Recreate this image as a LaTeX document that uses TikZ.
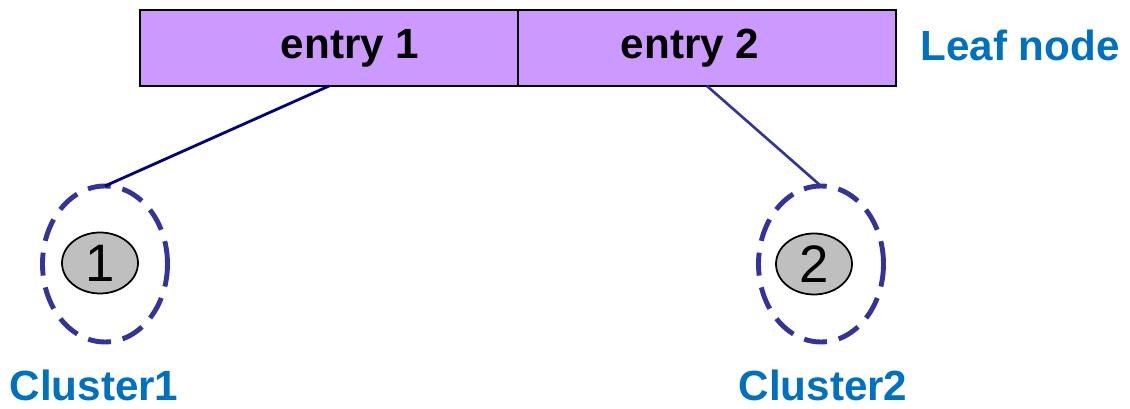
\documentclass[tikz,border=0pt]{standalone}
\usepackage{fontspec}
\setmainfont{Liberation Sans}
\usepackage{tikz}
\usetikzlibrary{shapes.geometric}
\definecolor{leafpurple}{HTML}{CC99FF}
\definecolor{clusterblue}{HTML}{333399}
\definecolor{linknavy}{HTML}{000080}
\definecolor{labelblue}{HTML}{0070C0}

\begin{document}
\begin{tikzpicture}[
  cell/.style={draw=black, line width=1.6pt, fill=leafpurple, minimum width=7.56cm, minimum height=1.52cm, inner sep=0pt, outer sep=0pt},
  entry/.style={font=\fontsize{24}{28}\selectfont\bfseries},
  cluster/.style={ellipse, draw=clusterblue, line width=2.8pt, dash pattern=on 0.46cm off 0.24cm, minimum width=2.5cm, minimum height=3.12cm, inner sep=0pt, outer sep=0pt},
  point/.style={ellipse, draw=black, line width=1pt, fill=black!25, minimum width=1.52cm, minimum height=1.22cm, inner sep=0pt, font=\fontsize{30}{34}\selectfont},
  tag/.style={text=labelblue, font=\fontsize{24}{28}\selectfont\bfseries}
]
\useasboundingbox (0cm,0cm) rectangle (22.6cm,-8.18cm);

% leaf node with its two entries
\node[cell] (e1) at (6.58cm,-0.96cm) {};
\node[cell] (e2) at (14.14cm,-0.96cm) {};
\node[entry] (t1) at (7.0cm,-0.96cm) {entry 1};
\node[entry] (t2) at (13.8cm,-0.96cm) {entry 2};
\node[tag] (leaf) at (20.4cm,-0.9cm) {Leaf node};

% clusters
\node[cluster] (c1) at (2.1cm,-5.28cm) {};
\node[cluster] (c2) at (16.42cm,-5.28cm) {};
\node[point] (p1) at (2.0cm,-5.26cm) {1};
\node[point] (p2) at (16.28cm,-5.28cm) {2};
\node[tag] (l1) at (1.88cm,-7.7cm) {Cluster1};
\node[tag] (l2) at (16.46cm,-7.7cm) {Cluster2};

% entries point to their clusters
\draw[linknavy, line width=1.6pt] (e1.south) -- (c1.north);
\draw[clusterblue, line width=1.5pt] (e2.south) -- (c2.north);
\end{tikzpicture}
\end{document}
